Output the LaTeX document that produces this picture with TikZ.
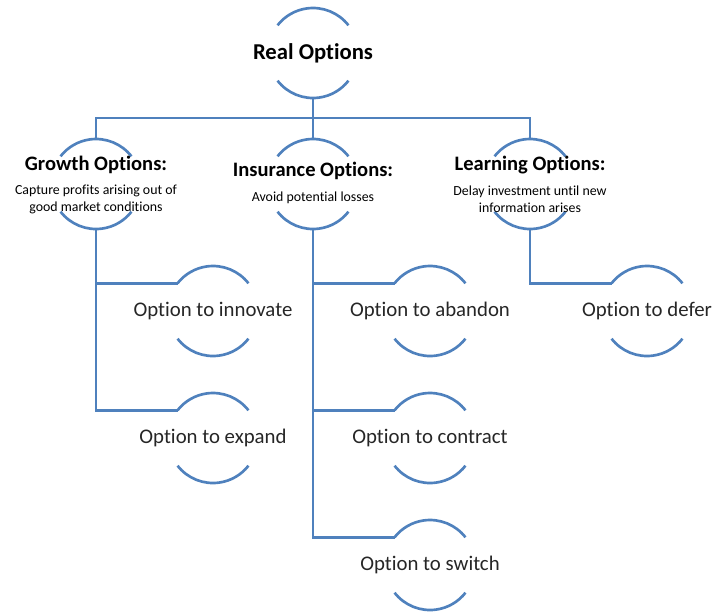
\documentclass[tikz,border=0pt]{standalone}
\usepackage{fontspec}
\setmainfont{Carlito}[Ligatures=NoCommon]
\usepackage{tikz}

\definecolor{ringblue}{RGB}{79,129,189}
\def\ringr{33.75pt}

% two arcs, above and below the text of a ring node
\newcommand\ringarcs[1]{%
  \draw[branch] (#1.38) arc[start angle=38, end angle=142, radius=\ringr]
                (#1.-142) arc[start angle=-142, end angle=-38, radius=\ringr];}

\begin{document}
\begin{tikzpicture}[
  x=0.75pt, y=-0.75pt,
  branch/.style={draw=ringblue, line width=2pt},
  ring/.style={circle, minimum size=2*\ringr, inner sep=0pt, outer sep=0pt},
  root/.style={font=\fontsize{17}{20}\selectfont\bfseries},
  head/.style={font=\fontsize{15.4}{18}\selectfont\bfseries},
  note/.style={font=\fontsize{10.4}{12.75}\selectfont, align=center},
  leaf/.style={font=\fontsize{15.6}{18}\selectfont, text=black!85}
]
\useasboundingbox (0,0) rectangle (713,615);

% rings
\node[ring] (ro) at (313,53) {};
\node[ring] (go) at (96,184) {};
\node[ring] (io) at (313,184) {};
\node[ring] (lo) at (530,184) {};
\node[ring] (inn) at (213,311) {};
\node[ring] (exp) at (213,438) {};
\node[ring] (aba) at (430,311) {};
\node[ring] (con) at (430,438) {};
\node[ring] (swi) at (430,565) {};
\node[ring] (def) at (647,311) {};

\foreach \n in {ro,go,io,lo,inn,exp,aba,con,swi,def}
  {\ringarcs{\n}}

% connectors
\draw[branch] (ro.south) -- ++(0,20) -| (go.north);
\draw[branch] (ro.south) -- ++(0,20) -| (lo.north);
\draw[branch] (ro.south) -- (io.north);
\draw[branch] (go.south) |- (inn.142);
\draw[branch] (go.south) |- (exp.142);
\draw[branch] (io.south) |- (aba.142);
\draw[branch] (io.south) |- (con.142);
\draw[branch] (io.south) |- (swi.142);
\draw[branch] (lo.south) |- (def.142);

% texts
\node[root] (roT) at (ro) {Real Options};
\node[head] (goT) at (96,165) {Growth Options:};
\node[note] (goN) at (96,199.5) {Capture profits arising out of\\good market conditions};
\node[head] (ioT) at (313,171) {Insurance Options:};
\node[note] (ioN) at (313,198) {Avoid potential losses};
\node[head] (loT) at (530,165) {Learning Options:};
\node[note] (loN) at (530,199.5) {Delay investment until new\\information arises};
\node[leaf] (innT) at (inn) {Option to innovate};
\node[leaf] (expT) at (exp) {Option to expand};
\node[leaf] (abaT) at (aba) {Option to abandon};
\node[leaf] (conT) at (con) {Option to contract};
\node[leaf] (swiT) at (swi) {Option to switch};
\node[leaf] (defT) at (def) {Option to defer};

\end{tikzpicture}
\end{document}
